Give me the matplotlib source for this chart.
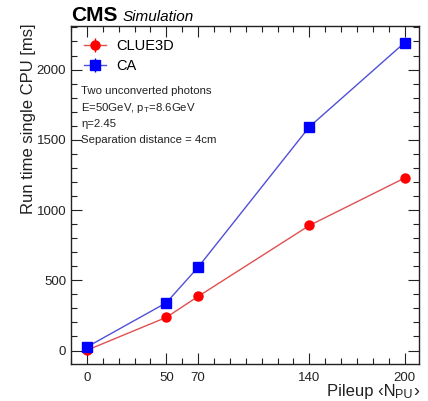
import matplotlib
matplotlib.use("Agg")
import matplotlib.pyplot as plt
from matplotlib.ticker import MultipleLocator, FixedLocator

plt.rcParams['font.family'] = ['Liberation Sans', 'DejaVu Sans']
plt.rcParams['mathtext.fontset'] = 'custom'
plt.rcParams['mathtext.rm'] = 'Liberation Sans'
plt.rcParams['mathtext.it'] = 'Liberation Sans:italic'

pileup = [0, 50, 70, 140, 200]
clue3d = [2, 236, 385, 890, 1228]
ca = [25, 340, 593, 1592, 2192]
xticks = [0, 50, 70, 140, 200]

W, H = 428, 401
fig = plt.figure(figsize=(W/100, H/100), dpi=100)
ax = fig.add_axes([71/W, 1-364/H, (419-71)/W, (364-26)/H])

zeros = [0]*len(pileup)
ax.errorbar(pileup, clue3d, yerr=zeros, color='#e05050', ecolor='red', lw=1.0,
            marker='o', ms=6.5, mfc='red', mec='red', capsize=0, label='CLUE3D', zorder=3)
ax.errorbar(pileup, ca, yerr=zeros, color='#5050d8', ecolor='blue', lw=1.0,
            marker='s', ms=6.5, mfc='blue', mec='blue', capsize=0, label='CA', zorder=4)

ax.set_xlim(-10, 209)
ax.set_ylim(-96, 2310)
ax.xaxis.set_major_locator(FixedLocator(xticks))
ax.xaxis.set_minor_locator(MultipleLocator(10))
ax.yaxis.set_major_locator(MultipleLocator(500))
ax.yaxis.set_minor_locator(MultipleLocator(100))
ax.tick_params(which='both', direction='in', top=True, right=True, labelsize=9.5, colors='#222222')
ax.tick_params(which='major', length=8, width=0.8)
ax.tick_params(which='minor', length=4, width=0.8)
ax.tick_params(axis='x', pad=6)
for s in ax.spines.values():
    s.set_linewidth(1.0)
    s.set_color('#222222')

ax.set_ylabel('Run time single CPU [ms]', fontsize=12, color='#222222')
ax.yaxis.set_label_coords(-0.1, 1.008)
ax.yaxis.label.set_horizontalalignment('right')

# x-axis title built from pieces, right-aligned to the axes edge
fig.canvas.draw()
r = fig.canvas.get_renderer()
base_y = 1 - 396/H
xr = 419/W
t3 = fig.text(xr, base_y, '›', ha='right', va='baseline', fontsize=13, color='#222222')
w3 = t3.get_window_extent(r).width / W
t2 = fig.text(xr - w3, base_y - 2/H, 'PU', ha='right', va='baseline', fontsize=9, color='#222222')
w2 = t2.get_window_extent(r).width / W
fig.text(xr - w3 - w2, base_y, 'Pileup ‹N', ha='right', va='baseline', fontsize=12, color='#222222')

fig.text(71/W, 1-21/H, 'CMS', fontsize=15, fontweight='bold', ha='left', va='baseline')
fig.text(123/W, 1-21/H, 'Simulation', fontsize=11, fontstyle='italic', ha='left', va='baseline')

leg = ax.legend(loc='upper left', bbox_to_anchor=(0.0, 1.0), frameon=False, fontsize=10.5,
                handlelength=1.5, handletextpad=0.7, labelspacing=0.4, borderaxespad=0.5)

lines = ['Two unconverted photons', r'E=50GeV, p$_\mathrm{T}$=8.6GeV', 'η=2.45', 'Separation distance = 4cm']
ys = [94, 111, 127, 143]
for t, y in zip(lines, ys):
    fig.text(81/W, 1-y/H, t, fontsize=8.2, ha='left', va='baseline', color='#222222')

fig.savefig('out.png', dpi=100)
